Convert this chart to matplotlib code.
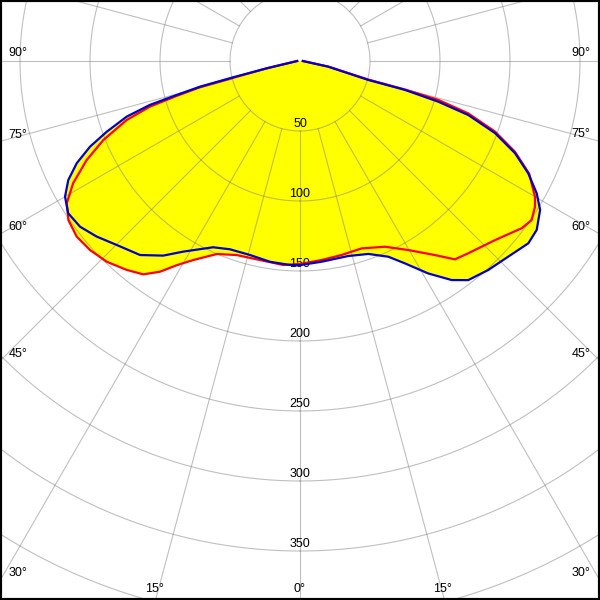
import numpy as np
import matplotlib.pyplot as plt

# luminous intensity curves, gamma in degrees (negative = left half), values in cd/klm
gamma_red = [-90, -77.6, -75.9, -75.3, -74.2, -73.1, -71.2, -68.1, -65.1, -61.7, -58.6, -55.5,
             -51.8, -48.0, -43.9, -39.7, -36.3, -33.6, -31.1, -28.2, -23.3, -18.1, -12.3, -4.7,
             0, 6.2, 12.1, 18.2, 24.6, 29.8, 34.8, 38.0, 41.2, 47.4, 53.0, 55.5, 58.2, 60.0,
             63.8, 67.1, 70.1, 72.7, 74.3, 74.8, 74.8, 78.9, 90]
cd_red = [2, 24, 49.1, 73.9, 91.6, 112.0, 130.8, 151.4, 168.0, 184.0, 195.2, 200.7,
          202.9, 201.8, 199.0, 193.9, 189.1, 180.7, 170.3, 161.3, 150.1, 145.8, 145.0, 146.2,
          145, 143.0, 141.7, 140.9, 145.9, 155.6, 168.8, 179.8, 182.5, 189.1, 198.4, 200.7, 197.5, 193.8,
          182.5, 166.7, 148.2, 125.9, 102.6, 77.7, 50.5, 20.5, 2]

gamma_blue = [-90, -77.6, -76.3, -75.6, -74.6, -73.7, -72.2, -69.9, -67.8, -65.4, -62.8, -60.0,
              -56.7, -53.0, -49.2, -44.9, -39.5, -35.1, -31.5, -25.0, -20.4, -14.5, -8.5, -2.8,
              0, 6.2, 13.9, 19.5, 24.3, 27.4, 31.1, 34.7, 37.5, 42.0, 46.8, 51.4, 54.5, 58.2,
              60.8, 63.8, 66.8, 69.7, 72.2, 73.6, 74.6, 74.5, 78.6, 90]
cd_blue = [2, 24.4, 49.0, 73.7, 91.4, 111.7, 130.0, 147.0, 162.0, 175.4, 186.1, 193.8,
           198.1, 196.7, 191.9, 185.5, 179.6, 169.9, 159.7, 146.8, 143.5, 143.1, 145.0, 145.9,
           145.8, 144.2, 143.5, 146.2, 153.4, 162.8, 177.2, 190.3, 197.3, 200.9, 204.1, 208.7, 207.7, 201.8,
           193.7, 181.7, 167.1, 148.6, 126.3, 103.0, 77.8, 50.6, 20.6, 2]

radial_ticks = [50, 100, 150, 200, 250, 300, 350, 400, 450]
radial_labels = [50, 100, 150, 200, 250, 300, 350]
angle_text = ['90°', '75°', '60°', '45°', '30°', '15°', '0°']

W = 600
cx, cy = 300, 61      # pole position in pixels
k = 1.4               # pixels per cd/klm
FONT = dict(fontsize=9, family='Liberation Sans')


def xy(g, r):
    g = np.radians(np.asarray(g, dtype=float))
    r = np.asarray(r, dtype=float)
    return r * np.sin(g), -r * np.cos(g)


fig = plt.figure(figsize=(6, 6), dpi=100)
ax = fig.add_axes([0, 0, 1, 1])
ax.set_xlim(-cx / k, (W - cx) / k)
ax.set_ylim(-(W - cy) / k, cy / k)
ax.set_aspect('equal')
ax.set_xticks([])
ax.set_yticks([])
for s in ax.spines.values():
    s.set_color('black')
    s.set_linewidth(3)

# yellow area
for g, c in [(gamma_red, cd_red), (gamma_blue, cd_blue)]:
    x, y = xy(g, c)
    ax.fill(x, y, color='#ffff00', lw=0, zorder=1)

# grid
t = np.linspace(0, 360, 721)
for r in radial_ticks:
    x, y = xy(t, np.full_like(t, r))
    ax.plot(x, y, color='#808080', alpha=0.5, lw=0.8, zorder=2)
for a in range(0, 360, 15):
    x, y = xy([a, a], [50, 600])
    ax.plot(x, y, color='#808080', alpha=0.5, lw=0.8, zorder=2)

for r in radial_labels:
    ax.text(0, -(r - 5), str(r), ha='center', va='center', zorder=3, **FONT)

# curves
x, y = xy(gamma_red, cd_red)
ax.plot(x, y, color='#ff0000', lw=1.6, zorder=4)
x, y = xy(gamma_blue, cd_blue)
ax.plot(x, y, color='#0000cc', lw=1.6, zorder=5)

# angle labels along the frame
left_pos = [(18, 53), (18, 135), (18, 227), (18, 354), (18, 573)]
right_pos = [(581, 53), (581, 134), (581, 227), (581, 354), (581, 573)]
for lab, (px, py) in zip(angle_text[:5], left_pos):
    fig.text(px / W, 1 - py / W, lab, ha='center', va='center', **FONT)
for lab, (px, py) in zip(angle_text[:5], right_pos):
    fig.text(px / W, 1 - py / W, lab, ha='center', va='center', **FONT)
for px, py in [(154, 589), (443, 589)]:
    fig.text(px / W, 1 - py / W, angle_text[5], ha='center', va='center', **FONT)
fig.text(299 / W, 1 - 589 / W, angle_text[6], ha='center', va='center', **FONT)

fig.savefig('out.png', dpi=100)
